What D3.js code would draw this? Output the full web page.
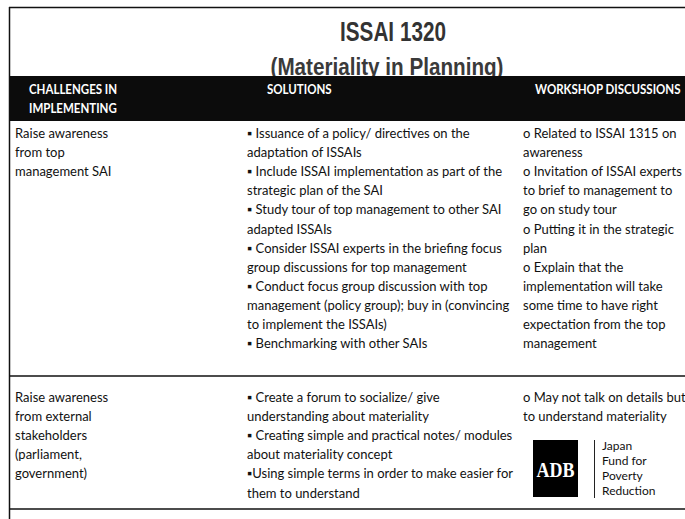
<!DOCTYPE html>
<html><head><meta charset="utf-8">
<script src="https://cdn.jsdelivr.net/npm/d3@7"></script>
<style>body{margin:0;background:#fff;overflow:hidden}</style>
</head><body><svg id="c" width="685" height="519"></svg>
<script>
const title = "ISSAI 1320";
const subtitle = "(Materiality in Planning)";
const headers = [["CHALLENGES IN", "IMPLEMENTING"], ["SOLUTIONS"], ["WORKSHOP DISCUSSIONS"]];
const row1Challenge = ["Raise awareness", "from top", "management SAI"];
const row1Solutions = [
  "\u25AA Issuance of a policy/ directives on the",
  "adaptation of ISSAIs",
  "\u25AA Include ISSAI implementation as part of the",
  "strategic plan of the SAI",
  "\u25AA Study tour of top management to other SAI",
  "adapted ISSAIs",
  "\u25AA Consider ISSAI experts in the briefing focus",
  "group discussions for top management",
  "\u25AA Conduct focus group discussion with top",
  "management  (policy group); buy in (convincing",
  "to implement the ISSAIs)",
  "\u25AA Benchmarking with other SAIs"
];
const row1Discussions = [
  "o Related to ISSAI 1315 on",
  "awareness",
  "o Invitation of ISSAI experts",
  "to brief to management to",
  "go on study tour",
  "o Putting it in the strategic",
  "plan",
  "o Explain that the",
  "implementation will take",
  "some time to have right",
  "expectation from the top",
  "management"
];
const row2Challenge = ["Raise awareness", "from external", "stakeholders", "(parliament,", "government)"];
const row2Solutions = [
  "\u25AA Create a forum to socialize/ give",
  "understanding about materiality",
  "\u25AA Creating simple and practical notes/ modules",
  "about materiality concept",
  "\u25AAUsing simple terms in order to make easier for",
  "them to understand"
];
const row2Discussions = ["o May not talk on details but", "to understand materiality"];
const logoLabel = "ADB";
const fundLines = ["Japan", "Fund for", "Poverty", "Reduction"];

const svg = d3.select("#c");
const W = 685, H = 519;
const bodyFont = "Lato, 'Open Sans', sans-serif";

svg.append("rect").attr("width", W).attr("height", H).attr("fill", "#fff");

// column positions
const colX = d3.scaleOrdinal().domain([0, 1, 2]).range([15, 247, 523]);
const headX = d3.scaleOrdinal().domain([0, 1, 2]).range([29, 267, 535]);
const lineH = 19.1;

// frame lines
const ink = "#111";
svg.append("line").attr("x1", 9).attr("x2", W).attr("y1", 7.5).attr("y2", 7.5).attr("stroke", ink).attr("stroke-width", 1.5);
svg.append("line").attr("x1", 9.5).attr("x2", 9.5).attr("y1", 7).attr("y2", H).attr("stroke", ink).attr("stroke-width", 1.5);

// title
svg.append("text").attr("x", 393).attr("y", 41).attr("text-anchor", "middle")
  .attr("font-family", "'Liberation Sans', Arial, sans-serif").attr("font-weight", "bold")
  .attr("font-size", 28).attr("fill", "#333")
  .attr("textLength", 106).attr("lengthAdjust", "spacingAndGlyphs").text(title);
svg.append("text").attr("x", 387).attr("y", 75).attr("text-anchor", "middle")
  .attr("font-family", "'Liberation Sans', Arial, sans-serif").attr("font-weight", "bold")
  .attr("font-size", 23).attr("fill", "#3a3a3a")
  .attr("textLength", 233).attr("lengthAdjust", "spacingAndGlyphs").text(subtitle);

// header band
svg.append("rect").attr("x", 10).attr("y", 76).attr("width", W - 10).attr("height", 45).attr("fill", "#0c0c0c");
headers.forEach((lines, i) => {
  lines.forEach((l, j) => {
    svg.append("text")
      .attr("transform", `translate(${headX(i)},${94 + j * 19}) scale(0.92,1)`)
      .attr("font-family", bodyFont).attr("font-weight", "bold")
      .attr("font-size", 12.5).attr("fill", "#fff").text(l);
  });
});

function block(lines, col, y0) {
  const y = d3.scaleLinear().domain([0, 1]).range([y0, y0 + lineH]);
  svg.append("g").selectAll("text").data(lines).join("text")
    .attr("x", colX(col)).attr("y", (d, i) => y(i))
    .attr("font-family", bodyFont).attr("font-size", 13).attr("fill", "#111")
    .text(d => d);
}
block(row1Challenge, 0, 138);
block(row1Solutions, 1, 138);
block(row1Discussions, 2, 138);

svg.append("line").attr("x1", 9).attr("x2", W).attr("y1", 376).attr("y2", 376).attr("stroke", ink).attr("stroke-width", 1.5);

block(row2Challenge, 0, 402);
block(row2Solutions, 1, 402);
block(row2Discussions, 2, 402);

svg.append("line").attr("x1", 9).attr("x2", W).attr("y1", 509).attr("y2", 509).attr("stroke", ink).attr("stroke-width", 1.5);

// logo
svg.append("rect").attr("x", 533).attr("y", 440).attr("width", 45).attr("height", 57).attr("fill", "#000");
svg.append("text").attr("x", 555.5).attr("y", 477).attr("text-anchor", "middle")
  .attr("font-family", "'Liberation Serif', 'Times New Roman', serif").attr("font-weight", "bold")
  .attr("font-size", 20).attr("fill", "#fff").attr("textLength", 38).attr("lengthAdjust", "spacingAndGlyphs").text(logoLabel);
svg.append("line").attr("x1", 594.5).attr("x2", 594.5).attr("y1", 440).attr("y2", 498).attr("stroke", "#222").attr("stroke-width", 1);
const fy = d3.scaleLinear().domain([0, 1]).range([450, 465]);
svg.append("g").selectAll("text").data(fundLines).join("text")
  .attr("x", 602).attr("y", (d, i) => fy(i))
  .attr("font-family", bodyFont).attr("font-size", 12).attr("fill", "#111").text(d => d);
</script></body></html>
